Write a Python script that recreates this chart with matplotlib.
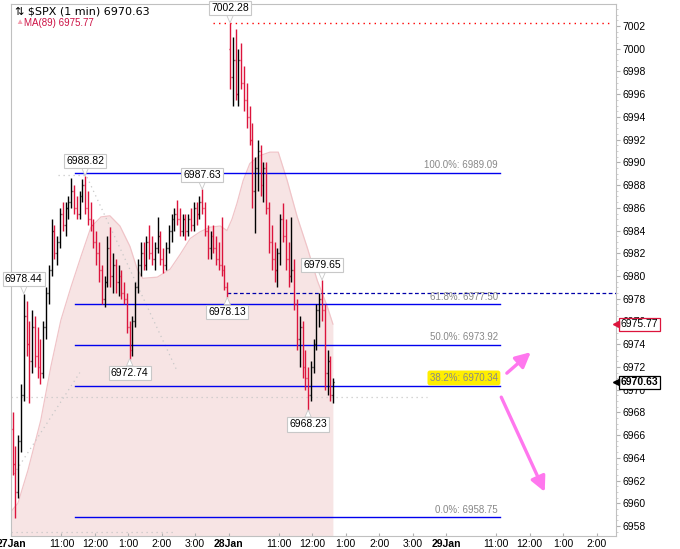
import matplotlib
matplotlib.use("Agg")
import matplotlib.pyplot as plt
import numpy as np

plt.rcParams['font.family'] = ['Liberation Sans', 'DejaVu Sans']

# 5-minute OHLC bars, 27Jan 9:30 .. 28Jan ~12:55 (trading minutes)
opens = [6966.5, 6963.5, 6961.0, 6965.5, 6969.5, 6976.5, 6974.0, 6972.5, 6975.5, 6973.0,
         6972.0, 6971.5, 6975.5, 6978.5, 6980.5, 6984.0, 6982.0, 6983.0, 6985.5, 6984.5,
         6986.0, 6986.5, 6987.5, 6986.0, 6985.5, 6987.0, 6988.0, 6986.0, 6985.0, 6984.5,
         6983.0, 6982.0, 6980.5, 6978.0, 6979.5, 6982.5, 6980.0, 6981.0, 6979.5, 6980.0,
         6978.5, 6978.0, 6975.5, 6973.5, 6976.0, 6979.0, 6981.0, 6982.0, 6981.0, 6983.0,
         6982.0, 6981.5, 6982.5, 6983.5, 6981.5, 6981.0, 6982.5, 6984.0, 6985.0, 6985.5,
         6985.0, 6984.0, 6985.0, 6984.0, 6985.0, 6984.5, 6986.0, 6985.5, 6986.5, 6986.0,
         6984.0, 6982.5, 6983.5, 6982.5, 6981.5, 6981.0, 6980.5, 6979.0,
         7000.0, 6997.5, 6999.0, 6996.0, 6999.0, 6997.0, 6995.5, 6994.0, 6992.0, 6987.5,
         6989.5, 6991.0, 6988.0, 6989.5, 6986.0, 6983.0, 6981.5, 6980.5, 6982.0, 6985.0,
         6983.5, 6981.5, 6980.0, 6980.5, 6977.5, 6974.5, 6975.5, 6972.0, 6971.0, 6969.5,
         6972.0, 6974.0, 6977.0, 6978.0, 6977.0, 6971.5, 6972.5, 6969.5]
highs = [6968.0, 6965.0, 6966.0, 6970.5, 6978.44, 6977.8, 6976.0, 6977.0, 6976.5, 6975.5,
         6974.5, 6976.0, 6979.0, 6981.0, 6985.0, 6984.5, 6983.5, 6986.0, 6986.5, 6986.5,
         6987.0, 6988.6, 6988.0, 6987.0, 6987.5, 6988.5, 6988.82, 6987.5, 6986.5, 6985.0,
         6984.0, 6983.0, 6981.0, 6980.0, 6983.5, 6984.3, 6982.0, 6981.5, 6981.0, 6980.5,
         6979.5, 6978.5, 6976.0, 6976.5, 6979.5, 6981.5, 6983.0, 6983.0, 6983.5, 6984.5,
         6983.5, 6983.0, 6985.2, 6984.0, 6982.5, 6983.0, 6984.5, 6985.5, 6986.0, 6986.7,
         6986.0, 6985.5, 6985.5, 6985.5, 6986.0, 6986.5, 6986.5, 6987.0, 6987.63, 6986.5,
         6984.5, 6984.0, 6984.5, 6983.5, 6983.0, 6985.2, 6981.0, 6979.5,
         7002.28, 7001.0, 7001.7, 7000.0, 7000.5, 6998.5, 6997.0, 6995.0, 6993.5, 6990.5,
         6992.0, 6991.5, 6990.0, 6990.0, 6986.5, 6984.5, 6983.0, 6982.5, 6985.5, 6986.4,
         6985.0, 6983.0, 6985.2, 6981.5, 6978.0, 6976.5, 6976.0, 6973.5, 6972.0, 6972.5,
         6974.5, 6977.5, 6978.5, 6979.65, 6977.5, 6973.5, 6973.0, 6971.0]
lows = [6962.5, 6958.7, 6960.5, 6964.5, 6969.0, 6973.0, 6968.8, 6971.5, 6972.0, 6971.0,
        6970.5, 6971.0, 6974.5, 6977.5, 6980.0, 6981.5, 6981.0, 6982.5, 6984.0, 6983.5,
        6985.0, 6986.0, 6985.5, 6985.0, 6985.0, 6986.5, 6985.5, 6984.5, 6984.0, 6982.5,
        6981.0, 6979.5, 6977.5, 6977.3, 6979.0, 6979.0, 6978.5, 6978.5, 6978.2, 6978.0,
        6977.5, 6975.0, 6972.74, 6973.0, 6975.5, 6978.5, 6980.0, 6980.5, 6980.5, 6981.5,
        6981.0, 6980.5, 6982.0, 6981.0, 6980.3, 6980.5, 6982.0, 6983.0, 6984.0, 6984.5,
        6983.5, 6983.5, 6983.2, 6983.5, 6984.0, 6984.0, 6984.5, 6985.0, 6985.5, 6983.5,
        6981.5, 6981.5, 6982.0, 6981.0, 6980.5, 6980.0, 6978.8, 6978.13,
        6996.5, 6995.0, 6995.5, 6995.0, 6996.5, 6994.5, 6993.0, 6991.5, 6986.0, 6983.8,
        6987.5, 6987.0, 6986.5, 6985.5, 6982.0, 6980.5, 6979.5, 6979.0, 6981.0, 6983.0,
        6980.5, 6979.0, 6979.5, 6977.0, 6973.5, 6972.0, 6971.0, 6970.0, 6968.23, 6969.0,
        6971.5, 6973.5, 6975.5, 6976.0, 6970.0, 6969.5, 6969.0, 6968.8]
closes = [6963.5, 6961.0, 6965.5, 6969.5, 6976.5, 6974.0, 6972.5, 6975.5, 6973.0, 6972.0,
          6971.5, 6975.5, 6978.5, 6980.5, 6984.0, 6982.0, 6983.0, 6985.5, 6984.5, 6986.0,
          6986.5, 6987.5, 6986.0, 6985.5, 6987.0, 6988.0, 6986.0, 6985.0, 6984.5, 6983.0,
          6982.0, 6980.5, 6978.0, 6979.5, 6982.5, 6980.0, 6981.0, 6979.5, 6980.0, 6978.5,
          6978.0, 6975.5, 6973.5, 6976.0, 6979.0, 6981.0, 6982.0, 6981.0, 6983.0, 6982.0,
          6981.5, 6982.5, 6983.5, 6981.5, 6981.0, 6982.5, 6984.0, 6985.0, 6985.5, 6985.0,
          6984.0, 6985.0, 6984.0, 6985.0, 6984.5, 6986.0, 6985.5, 6986.5, 6986.0, 6984.0,
          6982.5, 6983.5, 6982.5, 6981.5, 6981.0, 6980.5, 6979.0, 6978.5,
          6997.5, 6999.0, 6996.0, 6999.0, 6997.0, 6995.5, 6994.0, 6992.0, 6987.5, 6989.5,
          6991.0, 6988.0, 6989.5, 6986.0, 6983.0, 6981.5, 6980.5, 6982.0, 6985.0, 6983.5,
          6981.5, 6980.0, 6980.5, 6977.5, 6974.5, 6975.5, 6972.0, 6971.0, 6969.5, 6972.0,
          6974.0, 6977.0, 6978.0, 6977.0, 6971.5, 6972.5, 6969.5, 6970.63]

# MA(89)
ma_minutes = [0, 12, 30, 53, 71, 89, 107, 125, 143, 161, 177, 195, 213, 226, 236, 262, 285, 303,
              321, 339, 357, 375, 387, 396, 405, 416, 428, 446, 464, 479, 495, 513, 531, 549, 567, 577]
ma_values = [6959.3, 6960.0, 6962.9, 6967.3, 6972.0, 6976.1, 6979.0, 6981.7, 6984.3, 6985.2,
             6985.3, 6984.4, 6982.6, 6980.6, 6979.8, 6979.9, 6980.6, 6981.9, 6983.3, 6983.9,
             6984.3, 6984.4, 6984.0, 6985.0, 6986.4, 6988.4, 6989.9, 6990.6, 6990.9, 6990.9,
             6988.4, 6985.2, 6982.5, 6979.6, 6977.3, 6975.77]

# fibonacci retracement
fib_pcts = ['100.0%', '61.8%', '50.0%', '38.2%', '0.0%']
fib_levels = [6989.09, 6977.50, 6973.92, 6970.34, 6958.75]

# high / low callouts: (bar index, value, above?)
callout_bars = [4, 26, 42, 68, 77, 78, 111, 106]
callout_vals = [6978.44, 6988.82, 6972.74, 6987.63, 6978.13, 7002.28, 6979.65, 6968.23]
callout_above = [True, True, False, True, False, True, True, False]

last_price = 6970.63
last_ma = 6975.77
prev_close = 6978.5

xtick_pos = [0, 90, 150, 210, 270, 330, 390, 480, 540, 600, 660, 720, 780, 870, 930, 990, 1050]
xtick_lab = ['27Jan', '11:00', '12:00', '1:00', '2:00', '3:00', '28Jan', '11:00', '12:00',
             '1:00', '2:00', '3:00', '29Jan', '11:00', '12:00', '1:00', '2:00']

opens, highs, lows, closes = map(np.array, (opens, highs, lows, closes))
t = np.arange(len(closes)) * 5 + 2.5

fig = plt.figure(figsize=(6.8, 5.49), dpi=100)
ax = fig.add_axes([11 / 680, 13 / 549, 605 / 680, 532 / 549])
xmin, xmax = -0.4, 1084.8
ymin, ymax = 6957.12, 7003.94
ax.set_xlim(xmin, xmax)
ax.set_ylim(ymin, ymax)

# MA area
ax.fill_between(ma_minutes, ma_values, ymin, color='#f7e4e4', lw=0, zorder=1)
ax.plot(ma_minutes, ma_values, color='#f0c4c8', lw=0.9, zorder=1.1)

# grey dotted helper lines
dot = dict(color='#c8c8c8', lw=0.9, ls=(0, (1, 3)), zorder=1.5)
ax.plot([xmin, 746], [6969.34, 6969.34], **dot)
ax.plot([xmin, 294], [6957.46, 6957.46], **dot)
ax.plot([84, 134], [6988.9, 6988.9], **dot)
ax.plot([136, 297], [6988.7, 6971.7], **dot)
ax.plot([0, 123], [6962.2, 6971.5], **dot)

# fib lines
for pct, lev in zip(fib_pcts, fib_levels):
    ax.plot([114.5, 877], [lev, lev], color='#0000ee', lw=1.0, zorder=2)
    kw = {}
    if pct == '38.2%':
        kw['bbox'] = dict(boxstyle='round,pad=0.25', fc='#ffee00', ec='none')
    ax.text(873, lev + 0.25, f'{pct}: {lev:.2f}', ha='right', va='bottom',
            fontsize=7, color='#888888', zorder=2.5, **kw)

# previous close / high lines
ax.plot([387, xmax], [prev_close, prev_close], color='#0000aa', lw=0.9, ls=(0, (3, 2)), zorder=2)
ax.plot([362, 1074], [7002.28, 7002.28], color='#ff0000', lw=1.0, ls=(0, (1, 3)), zorder=2)

# OHLC bars
up = closes >= opens
cols = np.where(up, 'black', '#dc143c')
ax.vlines(t, lows, highs, colors=cols, lw=1.0, zorder=3)
ax.hlines(opens, t - 1.7, t, colors=cols, lw=1.0, zorder=3)
ax.hlines(closes, t, t + 1.7, colors=cols, lw=1.0, zorder=3)

# callouts
for b, v, above in zip(callout_bars, callout_vals, callout_above):
    off = 7 if above else -7
    ax.annotate(f'{v:.2f}', xy=(t[b], v), xytext=(0, off), textcoords='offset points',
                ha='center', va='bottom' if above else 'top', fontsize=7.5,
                family=['Liberation Sans Narrow', 'Liberation Sans'],
                bbox=dict(boxstyle='square,pad=0.2', fc='white', ec='#c8c8c8', lw=0.8),
                arrowprops=dict(arrowstyle='wedge,tail_width=0.6', fc='white', ec='#c8c8c8',
                                lw=0.6, shrinkA=0, shrinkB=0),
                zorder=6)

# pink arrows
for (x0, y0), (x1, y1) in [((889, 6971.45), (932, 6973.3)), ((879, 6969.34), (957, 6961.0))]:
    ax.annotate('', xy=(x1, y1), xytext=(x0, y0),
                arrowprops=dict(arrowstyle='-|>,head_width=0.45,head_length=0.9',
                                color='#ff77ee', lw=2.4, shrinkA=0, shrinkB=0), zorder=5)

# right-side tags
for val, ec, bold in [(last_ma, '#dc143c', False), (last_price, 'black', True)]:
    ax.annotate(f'{val:.2f}', xy=(1, val), xycoords=('axes fraction', 'data'),
                xytext=(3.5, 0), textcoords='offset points', ha='left', va='center',
                fontsize=7.5, fontweight='bold' if bold else 'normal',
                bbox=dict(boxstyle='square,pad=0.15', fc='white', ec=ec, lw=0.9),
                annotation_clip=False, zorder=7)
    ax.plot([1.0], [val], marker='<', ms=4, color=ec, transform=ax.get_yaxis_transform(),
            clip_on=False, zorder=7)

# axes styling
for s in ax.spines.values():
    s.set_color('#c0c0c0')
ax.yaxis.tick_right()
ax.set_yticks(np.arange(6958, 7003, 2))
ax.set_yticks(np.arange(6957.5, 7004, 0.5), minor=True)
ax.tick_params(axis='y', which='major', length=3, color='#b0b0b0', labelsize=7.5, pad=1.5)
ax.tick_params(axis='y', which='minor', length=1.5, color='#c8c8c8')
ax.set_xticks(xtick_pos)
ax.set_xticklabels(xtick_lab)
for lab in ax.get_xticklabels():
    if 'Jan' in lab.get_text():
        lab.set_fontweight('bold')
ax.tick_params(axis='x', length=2, direction='in', color='#b0b0b0', labelsize=7.5, pad=2)

# header
fig.text(15 / 680, 1 - 12 / 549, '\u21c5 \\$SPX (1 min) 6970.63', fontsize=8, va='center',
         family=['DejaVu Sans'])
fig.text(15 / 680, 1 - 23 / 549, '\u25b2', fontsize=6, color='#f4a0b0', va='center')
fig.text(24 / 680, 1 - 23 / 549, 'MA(89) 6975.77', fontsize=7, color='#cc1144', va='center')

fig.savefig('out.png', dpi=100)
